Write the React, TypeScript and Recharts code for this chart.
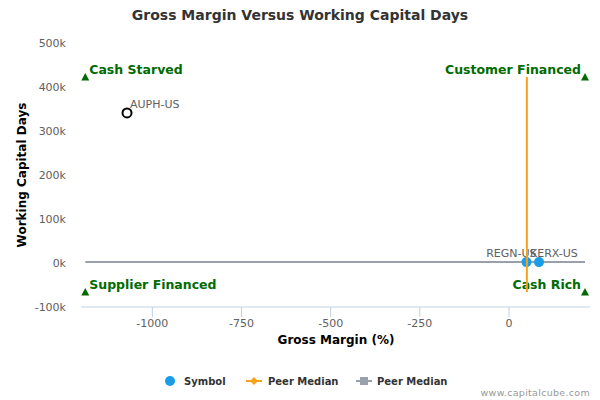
import { ScatterChart, Scatter, XAxis, YAxis } from "recharts";

// values
const xTicks = [-1000, -750, -500, -250, 0];
const yTicks = [-100000, 0, 100000, 200000, 300000, 400000, 500000];

const symbols = [
  { name: "AUPH-US", x: -1071, y: 341000 },
  { name: "REGN-US", x: 49, y: 2000 },
  { name: "KERX-US", x: 84, y: 2000 },
];
const focusSymbol = "AUPH-US";

// peer median lines span the quadrant corners
const marginMedian = [
  { x: 50, y: -66000 },
  { x: 50, y: 423000 },
];
const daysMedian = [
  { x: -1188, y: 2000 },
  { x: 213, y: 2000 },
];

const quadrants = [
  { label: "Cash Starved", x: -1188, y: 423000 },
  { label: "Customer Financed", x: 213, y: 423000 },
  { label: "Supplier Financed", x: -1188, y: -66000 },
  { label: "Cash Rich", x: 213, y: -66000 },
];

const FONT = "'DejaVu Sans', Verdana, sans-serif";
const BLUE = "#1a9de8";
const ORANGE = "#f7a21b";
const GRAY = "#9aa0ab";
const GREEN = "#006b00";

const SymbolShape = (props: any) => {
  const { cx, cy, payload } = props;
  const focus = payload.name === focusSymbol;
  let tx = cx + 3;
  let anchor = "start";
  let ty = cy - 5;
  if (payload.name === "REGN-US") {
    tx = cx + 10;
    anchor = "end";
  } else if (payload.name === "KERX-US") {
    tx = cx - 9;
  }
  return (
    <g>
      {focus ? (
        <circle cx={cx} cy={cy} r={4.5} fill="#fff" stroke="#000" strokeWidth={2} />
      ) : (
        <circle cx={cx} cy={cy} r={5} fill={BLUE} />
      )}
      <text x={tx} y={ty} textAnchor={anchor} fontSize={11} fill="#606060" fontFamily={FONT}>
        {payload.name}
      </text>
    </g>
  );
};

const QuadrantShape = (props: any) => {
  const { cx, cy, payload } = props;
  const left = payload.x < 0;
  return (
    <g>
      <polygon points={`${cx - 4},${cy + 3.5} ${cx + 4},${cy + 3.5} ${cx},${cy - 4}`} fill={GREEN} />
      <text
        x={left ? cx + 4 : cx - 4}
        y={cy - 3}
        textAnchor={left ? "start" : "end"}
        fontSize={12.5}
        fontWeight="bold"
        fill={GREEN}
        fontFamily={FONT}
      >
        {payload.label}
      </text>
    </g>
  );
};

const NoShape = () => <g />;

export default function App() {
  return (
    <div style={{ position: "absolute", left: 0, top: 0, width: 600, height: 400, fontFamily: FONT, background: "#fff" }}>
      <div
        style={{
          position: "absolute",
          top: 7,
          left: 0,
          width: 600,
          textAlign: "center",
          fontSize: 14,
          fontWeight: "bold",
          color: "#333",
        }}
      >
        Gross Margin Versus Working Capital Days
      </div>
      <ScatterChart width={600} height={400} margin={{ top: 43, right: 10, bottom: 63, left: 0 }}>
        <XAxis
          type="number"
          dataKey="x"
          domain={[-1200, 227]}
          ticks={xTicks}
          allowDataOverflow
          height={30}
          tickSize={10}
          tickMargin={2}
          stroke="#c0d0e0"
          tick={{ fill: "#606060", fontSize: 11, fontFamily: FONT }}
        />
        <YAxis
          type="number"
          dataKey="y"
          domain={[-100000, 500000]}
          ticks={yTicks}
          allowDataOverflow
          width={81}
          axisLine={false}
          tickLine={false}
          tickMargin={9}
          tickFormatter={(v: number) => `${v / 1000}k`}
          tick={{ fill: "#606060", fontSize: 11, fontFamily: FONT }}
        />
        <Scatter data={quadrants} shape={QuadrantShape} isAnimationActive={false} />
        <Scatter
          data={daysMedian}
          line={{ stroke: GRAY, strokeWidth: 2 }}
          shape={NoShape}
          isAnimationActive={false}
        />
        <Scatter data={symbols} shape={SymbolShape} isAnimationActive={false} />
        <Scatter
          data={marginMedian}
          line={{ stroke: ORANGE, strokeWidth: 2 }}
          shape={NoShape}
          isAnimationActive={false}
        />
      </ScatterChart>
      <div
        style={{
          position: "absolute",
          left: 336,
          top: 333,
          transform: "translateX(-50%)",
          fontSize: 12,
          fontWeight: "bold",
          color: "#000",
          whiteSpace: "nowrap",
        }}
      >
        Gross Margin (%)
      </div>
      <div
        style={{
          position: "absolute",
          left: 22,
          top: 175,
          transform: "translate(-50%, -50%) rotate(-90deg)",
          fontSize: 12,
          fontWeight: "bold",
          color: "#000",
          whiteSpace: "nowrap",
        }}
      >
        Working Capital Days
      </div>
      <svg style={{ position: "absolute", left: 0, top: 370 }} width={600} height={30}>
        <circle cx={170} cy={11} r={5} fill={BLUE} />
        <text x={184} y={15} fontSize={10} fontWeight="bold" fill="#333" fontFamily={FONT}>
          Symbol
        </text>
        <line x1={246} y1={11} x2={262} y2={11} stroke={ORANGE} strokeWidth={2} />
        <polygon points="254,7 258,11 254,15 250,11" fill={ORANGE} />
        <text x={268} y={15} fontSize={10} fontWeight="bold" fill="#333" fontFamily={FONT}>
          Peer Median
        </text>
        <line x1={356} y1={11} x2={372} y2={11} stroke={GRAY} strokeWidth={2} />
        <rect x={360} y={7} width={8} height={8} fill={GRAY} />
        <text x={377} y={15} fontSize={10} fontWeight="bold" fill="#333" fontFamily={FONT}>
          Peer Median
        </text>
        <text x={590} y={26} textAnchor="end" fontSize={9.5} fill="#999" fontFamily={FONT} letterSpacing={0.3}>
          www.capitalcube.com
        </text>
      </svg>
    </div>
  );
}
